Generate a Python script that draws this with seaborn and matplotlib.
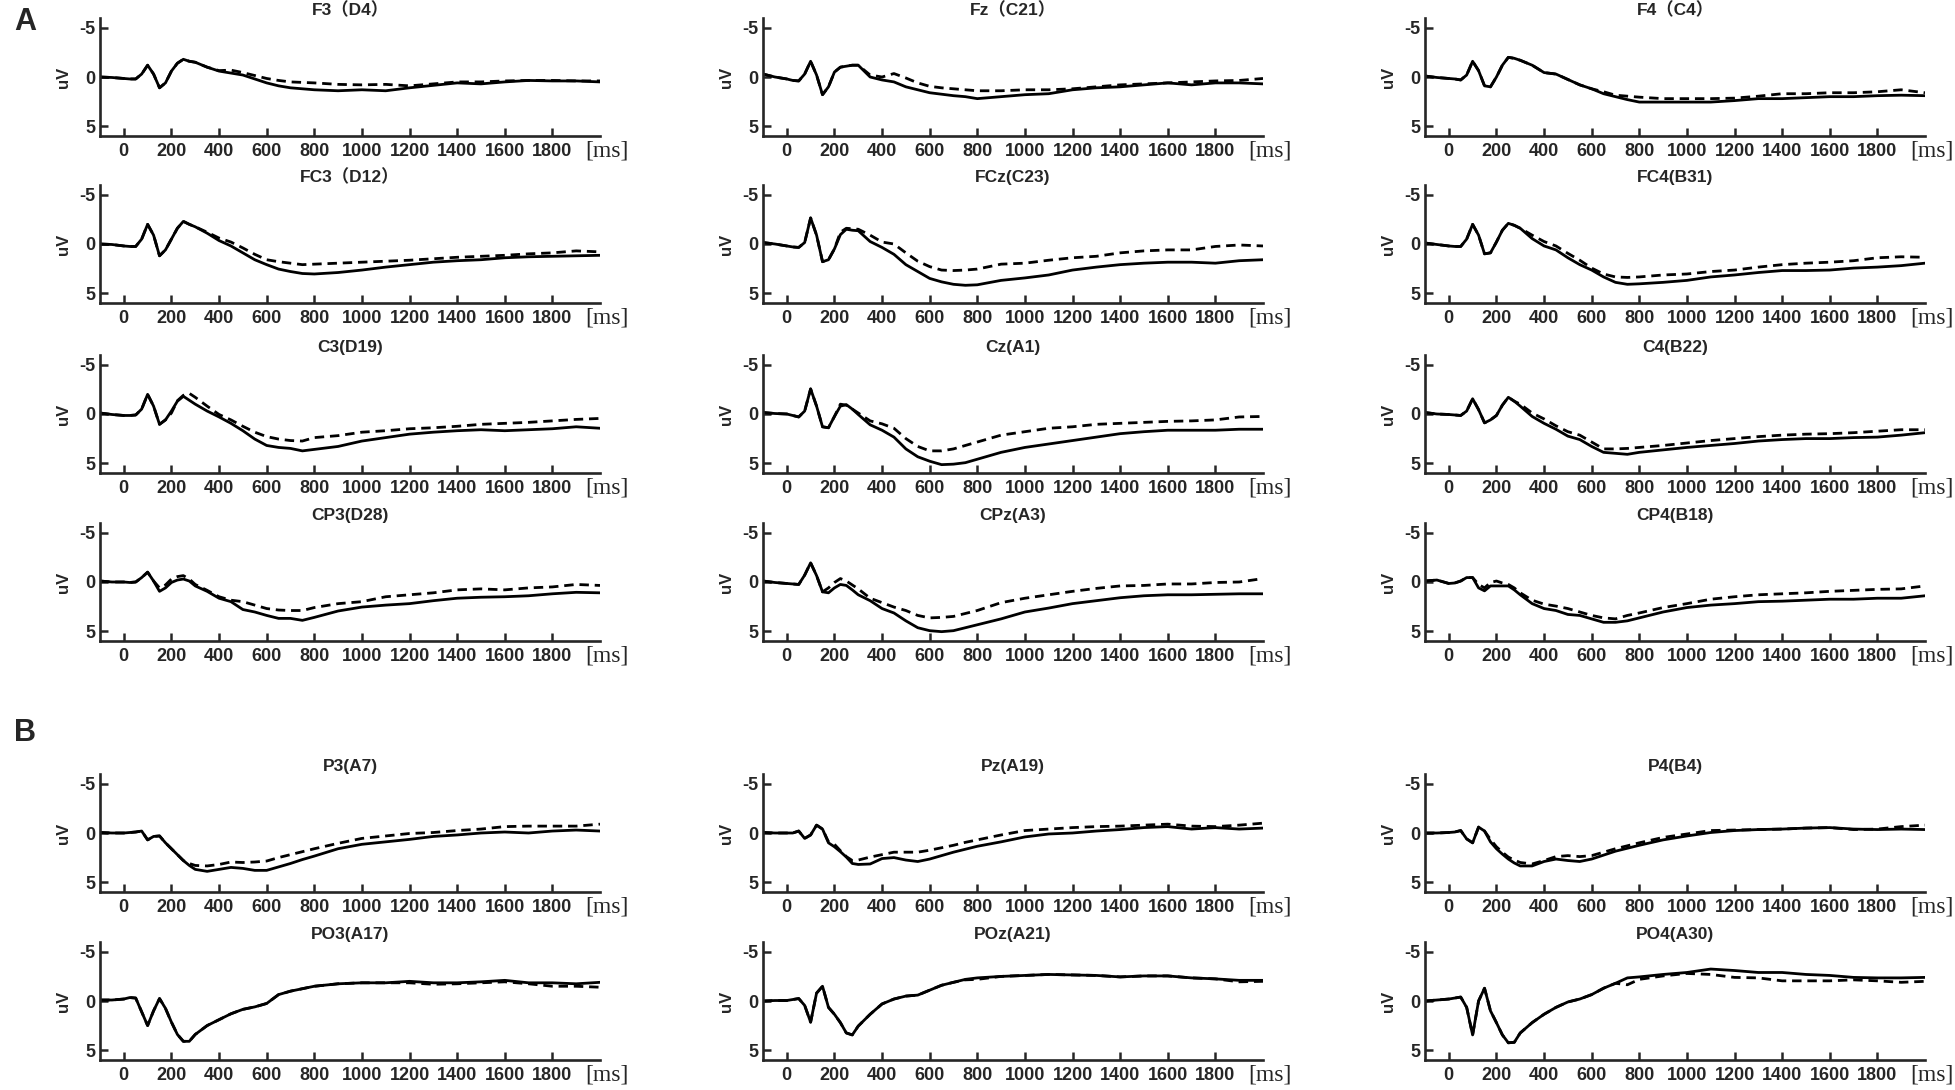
import matplotlib
matplotlib.use("Agg")
import matplotlib.pyplot as plt
import pandas as pd
import seaborn as sns

# time grid (ms) shared by all channels
t = [-100, -50, 0, 25, 50, 75, 100, 125, 150, 175, 200, 225, 250, 275, 300, 350,
     400, 450, 500, 550, 600, 650, 700, 750, 800, 900, 1000, 1100, 1200, 1300,
     1400, 1500, 1600, 1700, 1800, 1900, 2000]

# amplitude (uV) per channel, _s = solid line, _d = dashed line
F3_s = [0.0, 0.05, 0.15, 0.2, 0.2, -0.3, -1.2, -0.3, 1.1, 0.6, -0.6, -1.4, -1.8, -1.6, -1.5, -1.0, -0.6, -0.4, -0.2, 0.2, 0.6, 0.9, 1.1, 1.2, 1.3, 1.4, 1.3, 1.4, 1.1, 0.85, 0.6, 0.7, 0.5, 0.35, 0.4, 0.4, 0.5]
F3_d = [0.0, 0.05, 0.15, 0.2, 0.2, -0.3, -1.2, -0.3, 1.1, 0.6, -0.6, -1.4, -1.8, -1.6, -1.5, -1.0, -0.65, -0.7, -0.45, -0.15, 0.15, 0.35, 0.5, 0.55, 0.6, 0.75, 0.8, 0.75, 0.9, 0.7, 0.5, 0.5, 0.4, 0.35, 0.35, 0.4, 0.4]
Fz_s = [-0.3, 0.0, 0.2, 0.35, 0.4, -0.3, -1.6, -0.2, 1.8, 1.0, -0.5, -1.0, -1.1, -1.2, -1.2, 0.0, 0.3, 0.5, 1.0, 1.3, 1.6, 1.75, 1.9, 2.0, 2.2, 2.0, 1.8, 1.7, 1.3, 1.1, 1.0, 0.8, 0.6, 0.8, 0.6, 0.6, 0.7]
Fz_d = [-0.3, 0.0, 0.2, 0.35, 0.4, -0.3, -1.6, -0.2, 1.8, 1.0, -0.5, -1.0, -1.1, -1.2, -1.2, -0.2, 0.0, -0.35, 0.1, 0.6, 0.95, 1.1, 1.2, 1.3, 1.4, 1.4, 1.3, 1.3, 1.2, 1.0, 0.8, 0.7, 0.6, 0.5, 0.4, 0.35, 0.15]
F4_s = [-0.1, 0.05, 0.15, 0.2, 0.3, -0.2, -1.6, -0.65, 0.9, 1.0, 0.0, -1.2, -2.0, -1.9, -1.7, -1.2, -0.45, -0.3, 0.25, 0.8, 1.2, 1.7, 2.0, 2.3, 2.55, 2.55, 2.55, 2.55, 2.4, 2.2, 2.2, 2.1, 2.0, 2.0, 1.9, 1.85, 1.9]
F4_d = [-0.1, 0.05, 0.15, 0.2, 0.3, -0.2, -1.6, -0.65, 0.9, 1.0, 0.0, -1.2, -2.0, -1.9, -1.7, -1.2, -0.45, -0.3, 0.25, 0.8, 1.2, 1.5, 1.85, 1.95, 2.05, 2.2, 2.2, 2.2, 2.15, 1.95, 1.7, 1.7, 1.6, 1.6, 1.5, 1.3, 1.6]

FC3_s = [0.0, 0.05, 0.2, 0.25, 0.25, -0.5, -2.0, -0.9, 1.2, 0.6, -0.5, -1.6, -2.3, -2.0, -1.75, -1.1, -0.35, 0.2, 0.9, 1.6, 2.1, 2.55, 2.8, 3.0, 3.05, 2.9, 2.65, 2.35, 2.1, 1.85, 1.7, 1.6, 1.4, 1.3, 1.25, 1.2, 1.15]
FC3_d = [0.0, 0.05, 0.2, 0.25, 0.25, -0.5, -2.0, -0.9, 1.2, 0.6, -0.5, -1.6, -2.3, -2.0, -1.75, -1.2, -0.6, -0.2, 0.4, 1.05, 1.6, 1.8, 1.95, 2.1, 2.05, 1.95, 1.85, 1.75, 1.65, 1.5, 1.35, 1.25, 1.15, 1.0, 0.9, 0.7, 0.8]
FCz_s = [-0.15, 0.0, 0.2, 0.3, 0.35, -0.15, -2.65, -0.9, 1.8, 1.6, 0.5, -0.95, -1.5, -1.4, -1.35, -0.25, 0.35, 1.05, 2.1, 2.8, 3.5, 3.85, 4.1, 4.2, 4.15, 3.7, 3.45, 3.15, 2.65, 2.35, 2.1, 1.95, 1.85, 1.85, 1.95, 1.7, 1.6]
FCz_d = [-0.15, 0.0, 0.2, 0.3, 0.35, -0.15, -2.65, -0.9, 1.8, 1.6, 0.5, -1.2, -1.6, -1.55, -1.5, -0.9, -0.2, 0.0, 0.9, 1.75, 2.3, 2.65, 2.7, 2.65, 2.55, 2.05, 1.95, 1.65, 1.4, 1.25, 0.9, 0.7, 0.6, 0.6, 0.25, 0.1, 0.2]
FC4_s = [-0.1, 0.05, 0.2, 0.25, 0.25, -0.5, -2.0, -0.9, 1.0, 0.9, -0.2, -1.4, -2.1, -1.9, -1.6, -0.55, 0.2, 0.6, 1.4, 2.1, 2.65, 3.35, 3.9, 4.1, 4.05, 3.9, 3.7, 3.35, 3.15, 2.9, 2.7, 2.7, 2.65, 2.45, 2.35, 2.2, 1.95]
FC4_d = [-0.1, 0.05, 0.2, 0.25, 0.25, -0.5, -2.0, -0.9, 1.0, 0.9, -0.2, -1.4, -2.1, -1.9, -1.6, -0.9, -0.25, 0.2, 0.95, 1.65, 2.45, 3.05, 3.35, 3.4, 3.35, 3.15, 3.05, 2.8, 2.65, 2.35, 2.1, 1.95, 1.85, 1.7, 1.4, 1.3, 1.35]

C3_s = [-0.1, 0.05, 0.15, 0.15, 0.1, -0.5, -2.0, -0.8, 1.05, 0.6, -0.3, -1.3, -1.8, -1.4, -1.0, -0.3, 0.3, 0.95, 1.7, 2.55, 3.2, 3.4, 3.5, 3.75, 3.6, 3.3, 2.75, 2.4, 2.05, 1.85, 1.7, 1.6, 1.7, 1.6, 1.5, 1.3, 1.45]
C3_d = [-0.1, 0.05, 0.15, 0.15, 0.1, -0.5, -2.0, -0.8, 1.05, 0.6, -0.1, -1.35, -1.9, -2.1, -1.7, -0.8, 0.05, 0.6, 1.25, 1.85, 2.3, 2.55, 2.7, 2.75, 2.4, 2.2, 1.85, 1.7, 1.5, 1.4, 1.25, 1.05, 0.95, 0.85, 0.7, 0.55, 0.45]
Cz_s = [-0.15, -0.05, 0.0, 0.15, 0.3, -0.3, -2.55, -0.8, 1.3, 1.4, 0.25, -0.8, -0.95, -0.5, 0.05, 1.1, 1.65, 2.35, 3.55, 4.35, 4.8, 5.15, 5.1, 4.95, 4.6, 3.9, 3.4, 3.05, 2.7, 2.35, 2.0, 1.8, 1.65, 1.65, 1.65, 1.55, 1.55]
Cz_d = [-0.15, -0.05, 0.0, 0.15, 0.3, -0.3, -2.55, -0.8, 1.3, 1.4, 0.25, -1.0, -0.9, -0.5, -0.1, 0.7, 1.0, 1.45, 2.5, 3.3, 3.75, 3.75, 3.55, 3.2, 2.85, 2.15, 1.8, 1.45, 1.3, 1.05, 0.95, 0.85, 0.75, 0.7, 0.6, 0.3, 0.25]
C4_s = [-0.15, 0.0, 0.05, 0.1, 0.15, -0.3, -1.55, -0.45, 0.9, 0.6, 0.15, -0.9, -1.7, -1.3, -0.8, 0.25, 0.95, 1.55, 2.25, 2.6, 3.3, 3.9, 4.0, 4.1, 3.9, 3.65, 3.4, 3.2, 3.0, 2.75, 2.6, 2.5, 2.5, 2.4, 2.35, 2.15, 1.9]
C4_d = [-0.15, 0.0, 0.05, 0.1, 0.15, -0.3, -1.55, -0.45, 0.9, 0.6, 0.15, -0.9, -1.7, -1.3, -1.0, -0.1, 0.5, 1.2, 1.8, 2.15, 2.85, 3.55, 3.55, 3.5, 3.4, 3.2, 2.95, 2.7, 2.5, 2.3, 2.15, 2.05, 2.0, 1.9, 1.75, 1.6, 1.6]

CP3_s = [-0.1, 0.0, 0.0, 0.05, 0.0, -0.45, -1.0, -0.1, 0.95, 0.6, 0.05, -0.2, -0.3, -0.1, 0.4, 0.95, 1.65, 2.0, 2.8, 3.05, 3.4, 3.7, 3.7, 3.9, 3.6, 2.95, 2.55, 2.35, 2.2, 1.9, 1.65, 1.55, 1.5, 1.4, 1.2, 1.05, 1.1]
CP3_d = [-0.1, 0.0, 0.0, 0.05, 0.0, -0.45, -1.0, -0.1, 0.6, 0.3, -0.3, -0.55, -0.65, -0.3, 0.25, 0.85, 1.5, 1.85, 2.0, 2.35, 2.7, 2.85, 2.9, 2.9, 2.6, 2.2, 2.0, 1.5, 1.3, 1.1, 0.8, 0.7, 0.8, 0.6, 0.5, 0.25, 0.35]
CPz_s = [-0.1, 0.05, 0.15, 0.2, 0.25, -0.7, -1.95, -0.65, 1.0, 1.1, 0.6, 0.25, 0.35, 0.8, 1.3, 1.9, 2.7, 3.15, 3.95, 4.65, 4.95, 5.05, 4.95, 4.65, 4.35, 3.75, 3.05, 2.65, 2.2, 1.9, 1.6, 1.4, 1.3, 1.3, 1.25, 1.2, 1.2]
CPz_d = [-0.1, 0.05, 0.15, 0.2, 0.25, -0.7, -1.95, -0.65, 1.0, 0.6, 0.05, -0.35, -0.1, 0.3, 0.7, 1.65, 2.1, 2.55, 2.9, 3.4, 3.65, 3.6, 3.5, 3.2, 2.9, 2.1, 1.65, 1.3, 0.95, 0.65, 0.4, 0.35, 0.2, 0.2, 0.05, 0.0, -0.35]
CP4_s = [-0.1, -0.2, 0.15, 0.1, -0.1, -0.45, -0.45, 0.6, 0.9, 0.4, 0.4, 0.4, 0.4, 0.8, 1.3, 2.2, 2.7, 2.9, 3.3, 3.4, 3.75, 4.1, 4.1, 3.95, 3.65, 3.05, 2.6, 2.35, 2.2, 2.0, 1.95, 1.85, 1.75, 1.75, 1.65, 1.65, 1.4]
CP4_d = [-0.1, -0.2, 0.15, 0.1, -0.1, -0.45, -0.45, 0.25, 0.6, 0.05, -0.1, 0.1, 0.25, 0.6, 1.1, 1.85, 2.25, 2.45, 2.7, 3.05, 3.4, 3.65, 3.75, 3.4, 3.15, 2.6, 2.2, 1.75, 1.5, 1.3, 1.2, 1.1, 0.95, 0.85, 0.75, 0.7, 0.4]

P3_s = [-0.05, 0.0, 0.0, -0.05, -0.1, -0.2, 0.7, 0.35, 0.3, 1.0, 1.6, 2.2, 2.8, 3.3, 3.7, 3.9, 3.7, 3.5, 3.6, 3.8, 3.8, 3.45, 3.1, 2.7, 2.35, 1.6, 1.15, 0.9, 0.65, 0.35, 0.2, 0.0, -0.1, 0.0, -0.2, -0.3, -0.2]
P3_d = [-0.05, 0.0, 0.0, -0.05, -0.1, -0.2, 0.7, 0.35, 0.3, 1.0, 1.6, 2.2, 2.8, 3.1, 3.3, 3.35, 3.2, 2.95, 3.0, 2.95, 2.85, 2.5, 2.2, 1.9, 1.6, 1.05, 0.55, 0.3, 0.05, -0.05, -0.25, -0.4, -0.65, -0.7, -0.7, -0.7, -0.9]
Pz_s = [-0.05, 0.0, 0.0, 0.0, -0.2, 0.55, 0.2, -0.8, -0.4, 1.0, 1.4, 1.9, 2.45, 3.1, 3.2, 3.15, 2.6, 2.5, 2.75, 2.9, 2.65, 2.3, 1.95, 1.65, 1.35, 0.9, 0.4, 0.1, 0.0, -0.2, -0.35, -0.55, -0.65, -0.4, -0.55, -0.4, -0.5]
Pz_d = [-0.05, 0.0, 0.0, 0.0, -0.2, 0.55, 0.2, -0.8, -0.4, 0.9, 1.15, 1.8, 2.4, 2.8, 2.75, 2.45, 2.2, 1.95, 1.95, 1.95, 1.75, 1.5, 1.25, 0.95, 0.7, 0.2, -0.25, -0.4, -0.55, -0.65, -0.7, -0.8, -0.9, -0.7, -0.65, -0.8, -1.0]
P4_s = [0.0, 0.0, -0.05, -0.1, -0.25, 0.6, 1.0, -0.6, -0.2, 0.9, 1.6, 2.15, 2.65, 3.05, 3.35, 3.35, 2.9, 2.65, 2.8, 2.9, 2.65, 2.25, 1.85, 1.55, 1.25, 0.7, 0.3, -0.05, -0.25, -0.35, -0.4, -0.5, -0.55, -0.4, -0.35, -0.4, -0.35]
P4_d = [0.0, 0.0, -0.05, -0.1, -0.25, 0.6, 1.0, -0.6, -0.2, 0.65, 1.4, 1.95, 2.45, 2.75, 3.0, 3.15, 2.8, 2.4, 2.3, 2.4, 2.3, 1.95, 1.6, 1.3, 1.0, 0.45, 0.1, -0.25, -0.3, -0.35, -0.4, -0.5, -0.55, -0.35, -0.4, -0.65, -0.8]

PO3_s = [-0.1, -0.1, -0.2, -0.35, -0.3, 1.1, 2.5, 1.0, -0.25, 0.75, 2.15, 3.4, 4.1, 4.1, 3.4, 2.5, 1.9, 1.3, 0.85, 0.6, 0.25, -0.65, -1.0, -1.25, -1.5, -1.75, -1.85, -1.85, -2.0, -1.85, -1.85, -1.95, -2.1, -1.85, -1.85, -1.75, -1.9]
PO3_d = [-0.1, -0.1, -0.2, -0.35, -0.3, 1.1, 2.5, 1.0, -0.25, 0.75, 2.15, 3.4, 4.1, 4.1, 3.4, 2.5, 1.9, 1.3, 0.85, 0.6, 0.25, -0.65, -1.0, -1.25, -1.5, -1.75, -1.85, -1.85, -1.85, -1.7, -1.75, -1.85, -1.95, -1.75, -1.5, -1.5, -1.4]
POz_s = [0.0, -0.05, -0.05, -0.15, -0.25, 0.45, 2.15, -0.8, -1.5, 0.65, 1.35, 2.2, 3.25, 3.45, 2.55, 1.35, 0.3, -0.2, -0.5, -0.6, -1.1, -1.6, -1.9, -2.2, -2.35, -2.5, -2.6, -2.7, -2.65, -2.6, -2.45, -2.55, -2.55, -2.35, -2.25, -2.1, -2.1]
POz_d = [0.0, -0.05, -0.05, -0.15, -0.25, 0.45, 2.15, -0.8, -1.5, 0.65, 1.35, 2.2, 3.25, 3.45, 2.55, 1.35, 0.3, -0.2, -0.5, -0.6, -1.1, -1.6, -1.9, -2.15, -2.2, -2.5, -2.6, -2.7, -2.65, -2.6, -2.45, -2.55, -2.55, -2.35, -2.25, -1.95, -2.0]
PO4_s = [0.0, -0.1, -0.2, -0.3, -0.4, 0.65, 3.45, 0.0, -1.3, 1.0, 2.2, 3.45, 4.25, 4.2, 3.25, 2.2, 1.35, 0.65, 0.1, -0.2, -0.65, -1.3, -1.8, -2.35, -2.45, -2.7, -2.9, -3.25, -3.1, -2.9, -2.9, -2.7, -2.6, -2.4, -2.35, -2.35, -2.4]
PO4_d = [0.0, -0.1, -0.2, -0.3, -0.4, 0.65, 3.45, 0.0, -1.3, 1.0, 2.2, 3.45, 4.25, 4.2, 3.25, 2.2, 1.35, 0.65, 0.1, -0.2, -0.65, -1.3, -1.8, -1.65, -2.2, -2.55, -2.8, -2.7, -2.4, -2.35, -2.05, -2.05, -2.05, -2.15, -2.05, -1.9, -2.0]

channels = [
    ("F3（D4）", F3_s, F3_d), ("Fz（C21）", Fz_s, Fz_d), ("F4（C4）", F4_s, F4_d),
    ("FC3（D12）", FC3_s, FC3_d), ("FCz(C23)", FCz_s, FCz_d), ("FC4(B31)", FC4_s, FC4_d),
    ("C3(D19)", C3_s, C3_d), ("Cz(A1)", Cz_s, Cz_d), ("C4(B22)", C4_s, C4_d),
    ("CP3(D28)", CP3_s, CP3_d), ("CPz(A3)", CPz_s, CPz_d), ("CP4(B18)", CP4_s, CP4_d),
    ("P3(A7)", P3_s, P3_d), ("Pz(A19)", Pz_s, Pz_d), ("P4(B4)", P4_s, P4_d),
    ("PO3(A17)", PO3_s, PO3_d), ("POz(A21)", POz_s, POz_d), ("PO4(A30)", PO4_s, PO4_d),
]

sns.set_style("ticks")
plt.rcParams['font.family'] = ['Liberation Sans', 'Noto Sans CJK SC']
plt.rcParams['axes.unicode_minus'] = False

W, H = 1955, 1090
fig = plt.figure(figsize=(W / 100, H / 100), dpi=100)

# layout in pixels
col_left = [100, 763, 1425]
ax_w = 500
row_mid = [77, 244, 414, 582, 833, 1001]
ax_h = 118

for i, (name, sol, das) in enumerate(channels):
    r, c = divmod(i, 3)
    ax = fig.add_axes([col_left[c] / W, 1 - (row_mid[r] + ax_h / 2) / H, ax_w / W, ax_h / H])
    df = pd.DataFrame({
        "t": t + t,
        "uV": sol + das,
        "cond": ["solid"] * len(t) + ["dash"] * len(t),
    })
    sns.lineplot(data=df, x="t", y="uV", style="cond",
                 dashes={"solid": "", "dash": (3.4, 2.1)},
                 color="black", linewidth=2.0, legend=False, ax=ax)
    ax.set_xlim(-100, 2000)
    ax.set_ylim(6, -6)
    ax.set_xticks(range(0, 1801, 200))
    ax.set_yticks([-5, 0, 5])
    ax.tick_params(direction="in", length=6, width=1.8, labelsize=13, pad=5)
    ax.tick_params(axis="y", pad=3)
    for lab in ax.get_xticklabels() + ax.get_yticklabels():
        lab.set_fontweight("bold")
    sns.despine(ax=ax)
    for sp in ("left", "bottom"):
        ax.spines[sp].set_linewidth(1.9)
    ax.set_xlabel("")
    ax.set_ylabel("uV", fontsize=12, fontweight="bold", labelpad=6)
    ax.set_title(name, fontsize=12.5, fontweight="bold", pad=0)
    ax.annotate("[ms]", xy=(1.0, 0), xycoords="axes fraction",
                xytext=(5, -3), textcoords="offset points",
                ha="center", va="top", family="Liberation Serif",
                fontsize=17, fontweight="normal")

fig.text(14 / W, 1 - 22 / H, "A", fontsize=22, fontweight="bold", va="center")
fig.text(14 / W, 1 - 733 / H, "B", fontsize=22, fontweight="bold", va="center")

fig.savefig("out.png", dpi=100, facecolor="white")
